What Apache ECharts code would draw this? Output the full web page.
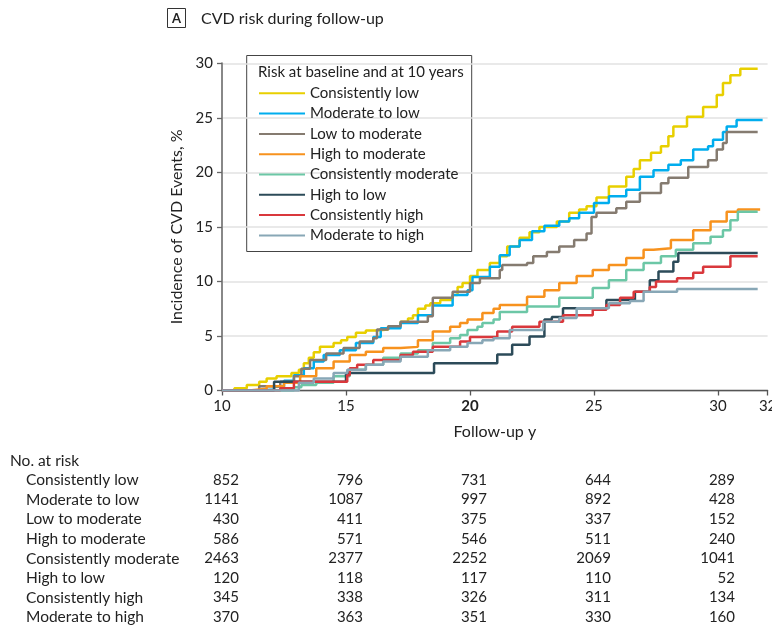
<!DOCTYPE html>
<html>
<head>
<meta charset="utf-8">
<script src="https://cdn.jsdelivr.net/npm/echarts@6/dist/echarts.min.js"></script>
<style>
  html, body { margin: 0; padding: 0; background: #fff; }
  #chart { width: 772px; height: 628px; }
</style>
</head>
<body>
<div id="chart"></div>
<script>
// step points: [follow-up year, cumulative incidence %]
const consistentlyLow = [[10,0],[10.5,0.2],[11,0.5],[11.5,0.8],[11.8,1.1],[12.2,1.3],[12.8,1.6],[13.1,1.9],[13.3,2.5],[13.5,3.0],[13.7,3.5],[13.95,4.0],[14.5,4.35],[14.8,4.6],[15.05,4.9],[15.4,5.3],[15.8,5.5],[16.25,5.6],[16.7,5.9],[17.2,6.3],[17.5,6.6],[17.7,6.9],[17.9,7.5],[18.2,7.8],[18.4,8.0],[18.8,8.3],[19.3,8.75],[19.5,9.5],[19.7,9.85],[20.0,10.5],[20.3,11.05],[20.8,11.7],[21.2,12.3],[21.5,13.2],[22.0,14.0],[22.4,14.5],[22.8,15.0],[23.5,15.5],[24.0,16.3],[24.4,16.6],[24.7,16.9],[25.1,17.7],[25.6,18.7],[26.3,19.6],[26.6,20.3],[26.85,21.1],[27.3,21.8],[27.7,22.4],[28.0,23.3],[28.2,24.2],[28.75,25.1],[29.4,26.0],[29.95,27.1],[30.2,28.2],[30.5,28.9],[30.9,29.5],[31.6,29.5]];
const moderateToLow = [[10,0],[11.5,0.1],[12.1,0.35],[12.5,0.9],[12.9,1.4],[13.3,2.05],[13.7,2.65],[14.1,3.25],[14.75,3.7],[15.4,4.35],[16.1,4.9],[16.4,5.7],[17.2,6.2],[17.9,6.9],[18.5,7.8],[19.3,8.75],[19.9,9.2],[20.1,10.4],[20.8,11.35],[21.2,12.4],[21.6,13.2],[22.0,13.8],[22.5,14.6],[23.0,15.1],[23.6,15.5],[24.0,15.8],[24.4,16.3],[25.0,17.2],[25.6,17.8],[26.3,18.4],[26.85,19.6],[27.4,20.2],[28.0,20.7],[28.5,21.1],[29.0,22.1],[29.6,22.4],[29.8,23.0],[30.2,23.7],[30.35,24.2],[30.75,24.8],[31.8,24.8]];
const lowToModerate = [[10,0],[11.5,0.4],[12.35,0.8],[12.9,1.3],[13.2,2.0],[13.55,2.8],[14.2,3.4],[14.9,3.9],[15.55,4.5],[16.1,4.8],[16.25,5.6],[16.7,5.9],[17.2,6.3],[18.3,6.8],[18.5,8.5],[19.3,9.05],[20.0,9.85],[20.4,10.3],[21.2,11.05],[21.3,11.5],[22.3,11.7],[22.55,12.3],[23.1,12.7],[23.6,13.2],[24.2,13.8],[24.7,14.4],[24.9,15.9],[25.1,16.3],[25.9,16.7],[26.3,17.3],[26.85,18.1],[27.7,19.0],[28.0,19.5],[28.8,20.5],[29.6,21.1],[29.95,22.1],[30.2,22.7],[30.35,23.7],[31.6,23.7]];
const highToModerate = [[10,0],[11.1,0.15],[11.8,0.4],[12.5,0.7],[13.15,1.3],[13.8,2.05],[14.5,2.65],[15.15,3.25],[15.8,3.55],[16.5,3.9],[17.2,4.0],[17.9,4.6],[18.5,5.4],[19.2,5.85],[19.6,6.2],[19.9,6.5],[20.5,7.1],[20.95,7.5],[21.2,7.85],[22.3,8.6],[23.0,9.2],[23.6,9.85],[24.3,10.5],[24.95,11.05],[25.6,11.5],[26.3,12.15],[27.0,12.9],[27.4,13.05],[28.1,13.8],[29.0,14.7],[29.7,15.5],[30.35,16.4],[30.8,16.6],[31.7,16.6]];
const consistentlyModerate = [[10,0],[12.9,0.3],[13.2,0.5],[13.8,0.7],[14.5,1.3],[15.15,1.9],[15.8,2.35],[16.5,3.0],[17.2,3.4],[17.9,3.7],[18.5,4.35],[19.2,4.8],[19.6,5.1],[19.9,5.55],[20.3,5.85],[20.5,6.2],[20.95,6.5],[21.2,7.2],[22.3,7.7],[23.6,8.5],[24.95,9.4],[25.6,10.1],[26.3,11.05],[27.0,11.7],[27.7,12.3],[28.3,12.9],[29.0,13.5],[29.7,14.1],[30.2,14.7],[30.5,15.6],[30.8,16.4],[31.6,16.4]];
const highToLow = [[10,0],[12.1,0.8],[15.0,1.6],[18.55,2.5],[21.1,3.3],[21.7,4.2],[22.4,4.95],[23.0,6.5],[23.3,6.75],[23.75,7.55],[25.5,8.3],[26.65,9.05],[27.25,10.1],[27.6,10.9],[28.2,11.8],[28.4,12.6],[31.6,12.6]];
const consistentlyHigh = [[10,0],[12.35,0.2],[12.9,0.8],[15.05,1.4],[15.15,2.05],[15.45,2.35],[16.1,2.8],[17.2,3.25],[17.7,3.55],[18.5,4.0],[19.6,4.5],[20.0,4.9],[21.1,5.4],[21.7,5.85],[22.8,6.3],[23.75,6.9],[24.95,7.4],[25.5,7.85],[26.05,8.5],[26.6,9.05],[27.25,9.5],[27.5,10.0],[28.35,10.3],[29.0,10.8],[29.4,11.35],[30.5,12.3],[31.6,12.3]];
const moderateToHigh = [[10,0],[13.1,0.7],[13.7,1.1],[14.5,1.6],[15.05,1.9],[15.8,2.35],[16.5,2.65],[17.2,3.1],[18.3,3.7],[19.2,4.0],[19.9,4.35],[20.5,4.6],[20.95,4.8],[21.6,5.55],[22.95,6.3],[23.6,6.65],[24.3,7.55],[25.6,8.0],[26.45,8.2],[27.0,9.05],[28.35,9.3],[31.6,9.3]];

const groupNames = ["Consistently low", "Moderate to low", "Low to moderate", "High to moderate",
  "Consistently moderate", "High to low", "Consistently high", "Moderate to high"];
const groupColors = ["#e8cf00", "#00adee", "#857b70", "#f7921e", "#6cc7a6", "#2c4b59", "#d9383c", "#88a7b6"];
const groupData = [consistentlyLow, moderateToLow, lowToModerate, highToModerate,
  consistentlyModerate, highToLow, consistentlyHigh, moderateToHigh];

// number at risk table
const riskTimes = [10, 15, 20, 25, 30];
const atRisk = [
  [852, 796, 731, 644, 289],
  [1141, 1087, 997, 892, 428],
  [430, 411, 375, 337, 152],
  [586, 571, 546, 511, 240],
  [2463, 2377, 2252, 2069, 1041],
  [120, 118, 117, 110, 52],
  [345, 338, 326, 311, 134],
  [370, 363, 351, 330, 160],
];

const FONT = "Lato";
const myChart = echarts.init(document.getElementById("chart"));

const option = {
  animation: false,
  textStyle: { fontFamily: FONT },
  grid: { left: 222, right: 4.4, top: 63.3, bottom: 237.5, containLabel: false, outerBoundsMode: "none" },
  xAxis: {
    type: "value",
    min: 10,
    max: 32,
    interval: 5,
    name: "Follow-up y",
    nameLocation: "middle",
    nameGap: 33,
    nameTextStyle: { fontSize: 16, color: "#222", fontFamily: FONT },
    axisLine: { show: true, onZero: false, lineStyle: { color: "#555", width: 1.3 } },
    axisTick: { show: true, length: 5, lineStyle: { color: "#555", width: 1.3 } },
    axisLabel: {
      fontSize: 15, color: "#222", margin: 8, fontFamily: FONT, alignMaxLabel: "center",
      formatter: v => (v === 20 ? "{b|20}" : String(v)),
      rich: { b: { fontSize: 15, fontWeight: "bold", color: "#222", fontFamily: FONT } },
    },
    splitLine: { show: false },
  },
  yAxis: {
    type: "value",
    min: 0,
    max: 30,
    interval: 5,
    name: "Incidence of CVD Events, %",
    nameLocation: "middle",
    nameGap: 37,
    nameTextStyle: { fontSize: 16, color: "#222", fontFamily: FONT },
    axisLine: { show: true, lineStyle: { color: "#888", width: 2 } },
    axisTick: { show: true, length: 5, lineStyle: { color: "#666", width: 1.3 } },
    axisLabel: { fontSize: 15, color: "#222", margin: 9, fontFamily: FONT },
    splitLine: { show: true, lineStyle: { color: "#e2e2e2", width: 1.5 } },
  },
  legend: {
    orient: "vertical",
    left: 258,
    top: 85.8,
    padding: 0,
    itemWidth: 46,
    itemHeight: 14,
    itemGap: 5.3,
    data: groupNames,
    itemStyle: { opacity: 0 },
    textStyle: { fontSize: 15, color: "#222", fontFamily: FONT },
  },
  series: groupNames.map((name, i) => ({
    name,
    type: "line",
    step: "end",
    symbol: "none",
    data: groupData[i],
    color: groupColors[i],
    lineStyle: { width: 2.5, color: groupColors[i] },
  })),
};

myChart.setOption(option);

// title, legend frame and the number-at-risk table
const graphics = [
  { type: "rect", shape: { x: 167.5, y: 8.5, width: 18, height: 19 }, style: { fill: "#fff", stroke: "#333", lineWidth: 1 } },
  { type: "text", x: 176.5, y: 18.5, style: { text: "A", font: `bold 13px ${FONT}`, fill: "#222", align: "center", verticalAlign: "middle" } },
  { type: "text", x: 201, y: 18.5, style: { text: "CVD risk during follow-up", font: `16px ${FONT}`, fill: "#222", verticalAlign: "middle" } },
  { type: "rect", z: -1, shape: { x: 246.7, y: 55.5, width: 225, height: 196 }, style: { fill: "#fff", stroke: "#444", lineWidth: 1 } },
  { type: "text", x: 258, y: 72, style: { text: "Risk at baseline and at 10 years", font: `15px ${FONT}`, fill: "#222", verticalAlign: "middle" } },
  { type: "text", x: 10, y: 460.5, style: { text: "No. at risk", font: `15.5px ${FONT}`, fill: "#222", verticalAlign: "middle" } },
];
const rowY = [480, 499.5, 519.3, 539, 558.5, 578, 597.5, 617];
groupNames.forEach((name, r) => {
  graphics.push({ type: "text", x: 26, y: rowY[r], style: { text: name, font: `15.5px ${FONT}`, fill: "#222", verticalAlign: "middle" } });
  riskTimes.forEach((t, c) => {
    const px = myChart.convertToPixel({ xAxisIndex: 0 }, t) + 17;
    graphics.push({ type: "text", x: px, y: rowY[r], style: { text: String(atRisk[r][c]), font: `15px ${FONT}`, fill: "#222", align: "right", verticalAlign: "middle" } });
  });
});
myChart.setOption({ graphic: graphics });
</script>
</body>
</html>
